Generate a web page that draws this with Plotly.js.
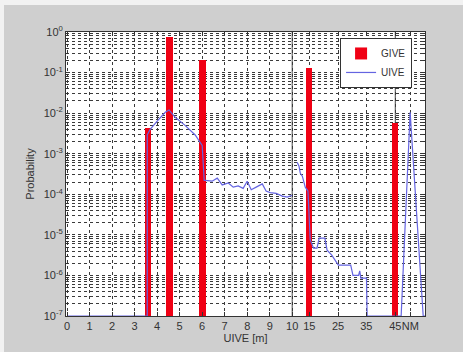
<!DOCTYPE html>
<html>
<head>
<meta charset="utf-8">
<script src="https://cdn.plot.ly/plotly-3.0.1.min.js"></script>
<style>
  html, body { margin: 0; padding: 0; background: #f2f2f2; }
  #chart { position: absolute; left: 4px; top: 5px; width: 459px; height: 347px; }
</style>
</head>
<body>
<div id="chart"></div>
<script>
// x axis: nonuniform scale, positions on the axis and their labels
const xTickPos   = [0, 1, 2, 3, 4, 5, 6, 7, 8, 9, 10, 10.76, 12.04, 13.29, 14.58, 15.25];
const xTickText  = ["0","1","2","3","4","5","6","7","8","9","10","15","25","35","45","NM"];

// y axis decades
const yTickVals  = [1e-7, 1e-6, 1e-5, 1e-4, 1e-3, 1e-2, 1e-1, 1];
const yTickText  = ["10<sup>-7</sup>","10<sup>-6</sup>","10<sup>-5</sup>","10<sup>-4</sup>","10<sup>-3</sup>","10<sup>-2</sup>","10<sup>-1</sup>","10<sup>0</sup>"];

// GIVE histogram (axis positions and probabilities)
const giveX = [3.6, 4.55, 6.02, 10.76, 14.58];
const giveP = [4.2e-3, 0.74, 0.21, 0.13, 5.6e-3];

// UIVE distribution (axis positions and probabilities)
const uiveX = [0, 3.56, 3.56, 3.69, 4.04, 4.36, 4.53, 4.8, 5.24, 5.69, 6.0, 6.09,
  6.13, 6.44, 6.67, 6.89, 7.16, 7.38, 7.6, 7.82, 8.0, 8.18, 8.4, 8.67, 8.84, 9.02, 9.29, 9.56, 9.78, 10.0,
  null,
  10.22, 10.3, 10.36, 10.45, 10.58, 10.7, 10.8, 10.95, 11.1, 11.2, 11.45, 11.55, 11.75, 11.9, 12.05, 12.3, 12.6, 12.7, 12.95, 13.0, 13.05, 13.3, 13.33,
  14.84, 15.24, 15.82, 15.95];
const uiveP = [1e-7, 1e-7, 2.9e-3, 4e-3, 6.7e-3, 1.05e-2, 1.2e-2, 7.9e-3, 5e-3, 2.9e-3, 1.6e-3, 2.2e-4,
  2.2e-4, 2.1e-4, 2.5e-4, 1.7e-4, 1.9e-4, 1.5e-4, 1.6e-4, 1.4e-4, 2.1e-4, 1.3e-4, 1.5e-4, 1.8e-4, 1.2e-4, 1.1e-4, 1.05e-4, 9e-5, 8.5e-5, 9.5e-5,
  null,
  6.2e-4, 5e-4, 3.3e-4, 2.8e-4, 1.5e-4, 1.2e-4, 7.5e-6, 4.7e-6, 4.7e-6, 8.3e-6, 8.3e-6, 4.2e-6, 3.2e-6, 2.4e-6, 1.8e-6, 1.8e-6, 1.8e-6, 1.0e-6, 1.0e-6, 1.3e-6, 8.6e-7, 8.6e-7, 1e-7,
  1e-7, 1.05e-2, 1e-7, 1e-7];

// solid separators at "10" and "45"
const separatorTicks = ["10", "45"];

const gridCol = "#3a3a3a";
const sepShapes = separatorTicks.map(t => {
  const xv = xTickPos[xTickText.indexOf(t)];
  return { type: "line", xref: "x", yref: "paper", x0: xv, x1: xv, y0: 0, y1: 1,
           line: { color: "#444", width: 1 }, layer: "below" };
});

const traces = [
  { type: "bar", name: "GIVE", x: giveX, y: giveP, width: 0.28,
    marker: { color: "rgb(240,0,20)", line: { width: 0 } } },
  { type: "scatter", mode: "lines", name: "UIVE", x: uiveX, y: uiveP,
    connectgaps: false, line: { color: "rgb(100,100,225)", width: 1.2 } }
];

const layout = {
  width: 459, height: 347,
  paper_bgcolor: "#cfcfcf",
  plot_bgcolor: "#ffffff",
  margin: { l: 62, r: 38, t: 27, b: 36 },
  font: { family: "Liberation Sans, Arial, sans-serif", size: 11, color: "#333" },
  showlegend: true,
  bargap: 0,
  xaxis: {
    range: [-0.05, 15.9],
    tickmode: "array", tickvals: xTickPos, ticktext: xTickText,
    tickangle: 0,
    ticks: "inside", ticklen: 4, tickcolor: "#333",
    showline: true, linecolor: "#333", mirror: "ticks",
    showgrid: true, gridcolor: gridCol, griddash: "dot", gridwidth: 1,
    zeroline: false,
    tickfont: { size: 11, color: "#333" },
    title: { text: "UIVE [m]", font: { size: 11, color: "#333" }, standoff: 2 }
  },
  yaxis: {
    type: "log", range: [-7, 0],
    tickmode: "array", tickvals: yTickVals, ticktext: yTickText,
    ticks: "inside", ticklen: 4, tickcolor: "#333",
    showline: true, linecolor: "#333", mirror: "ticks",
    showgrid: true, gridcolor: gridCol, griddash: "dot", gridwidth: 1,
    minor: { dtick: "D1", showgrid: true, gridcolor: gridCol, griddash: "dot", gridwidth: 1, ticks: "inside", ticklen: 2, tickcolor: "#333" },
    zeroline: false,
    tickfont: { size: 11, color: "#333" },
    title: { text: "Probability", font: { size: 11, color: "#333" }, standoff: 6 }
  },
  legend: {
    x: 0.964, y: 0.979, xanchor: "right", yanchor: "top",
    bgcolor: "#ffffff", bordercolor: "#333", borderwidth: 1,
    font: { size: 10, color: "#333" },
    itemwidth: 30, tracegroupgap: 0
  },
  shapes: sepShapes
};

Plotly.newPlot("chart", traces, layout, { displayModeBar: false, staticPlot: true });
</script>
</body>
</html>
